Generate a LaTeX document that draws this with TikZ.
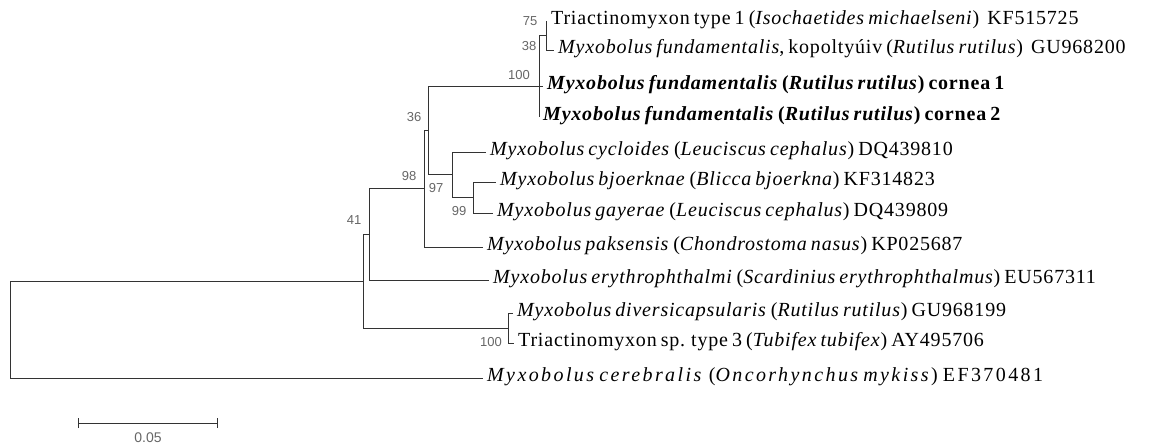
\documentclass[tikz,border=0pt]{standalone}
\usepackage{fontspec}
\setmainfont{Liberation Serif}
\newfontfamily\leaffont[LetterSpace=4,WordSpace=0.7]{Liberation Serif}
\newfontfamily\bootfont{Liberation Sans}
\usetikzlibrary{arrows.meta,positioning}
\tikzset{
  branch/.style={draw=black!80,line width=1pt},
  leaf/.style={anchor=west,inner xsep=4pt,inner ysep=0pt,text height=0.66em,text depth=0pt,
    font=\leaffont\fontsize{20}{20}\selectfont},
  boot/.style={inner sep=0pt,text=black!60,font=\bootfont\fontsize{13}{13}\selectfont}
}

\begin{document}
\begin{tikzpicture}[x=1pt,y=-1pt]
\useasboundingbox (0,0) rectangle (1149,445);
% inner nodes of the tree
\coordinate (root)  at (10,329.5);
\coordinate (nA)    at (363,281);
\coordinate (n41)   at (369,234);
\coordinate (n98)   at (424,188);
\coordinate (n36)   at (428,130);
\coordinate (n100)  at (539,86);
\coordinate (n75)   at (546,35);
\coordinate (n97)   at (452,174);
\coordinate (n99)   at (473,197);
\coordinate (n100b) at (508,328);
% leaves
\node[leaf] (tri1) at (547,21)  {Triactinomyxon type 1 (\textit{Isochaetides michaelseni})\ \ KF515725};
\node[leaf] (kop)  at (554,50)  {\textit{Myxobolus fundamentalis}, kopoltyúiv (\textit{Rutilus rutilus})\ \ GU968200};
\node[leaf] (c1)   at (543,86)  {\bfseries\textit{Myxobolus fundamentalis} (\textit{Rutilus rutilus}) cornea 1};
\node[leaf] (c2)   at (539,117) {\bfseries\textit{Myxobolus fundamentalis} (\textit{Rutilus rutilus}) cornea 2};
\node[leaf] (cyc)  at (486,152) {\textit{Myxobolus cycloides} (\textit{Leuciscus cephalus}) DQ439810};
\node[leaf] (bjo)  at (496,182) {\textit{Myxobolus bjoerknae} (\textit{Blicca bjoerkna}) KF314823};
\node[leaf] (gay)  at (493,213) {\textit{Myxobolus gayerae} (\textit{Leuciscus cephalus}) DQ439809};
\node[leaf] (pak)  at (483,247) {\textit{Myxobolus paksensis} (\textit{Chondrostoma nasus}) KP025687};
\node[leaf] (ery)  at (489,280) {\textit{Myxobolus erythrophthalmi} (\textit{Scardinius erythrophthalmus}) EU567311};
\node[leaf] (div)  at (513,313) {\textit{Myxobolus diversicapsularis} (\textit{Rutilus rutilus}) GU968199};
\node[leaf] (tri3) at (514,343) {Triactinomyxon sp. type 3 (\textit{Tubifex tubifex}) AY495706};
\node[leaf] (cer)  at (483,378) {\addfontfeature{LetterSpace=12}\textit{Myxobolus cerebralis} (\textit{Oncorhynchus mykiss}) EF370481};
% branches
\path[branch]
  (root)  |- (nA)       (root)  |- (cer.west)
  (nA)    |- (n41)      (nA)    |- (n100b)
  (n41)   |- (n98)      (n41)   |- (ery.west)
  (n98)   |- (n36)      (n98)   |- (pak.west)
  (n36)   |- (n100)     (n36)   |- (n97)
  (n100)  |- (n75)      (n100)  |- (c1.west)    (n100) |- (c2.west)
  (n75)   |- (tri1.west) (n75)  |- (kop.west)
  (n97)   |- (cyc.west) (n97)   |- (n99)
  (n99)   |- (bjo.west) (n99)   |- (gay.west)
  (n100b) |- (div.west) (n100b) |- (tri3.west);
% bootstrap values
\node[boot] (b75)   at (530,21)  {75};
\node[boot] (b38)   at (529,46)  {38};
\node[boot] (b100)  at (519,75)  {100};
\node[boot] (b36)   at (414,117) {36};
\node[boot] (b98)   at (409,176) {98};
\node[boot] (b97)   at (436,188) {97};
\node[boot] (b99)   at (459,211) {99};
\node[boot] (b41)   at (354,220) {41};
\node[boot] (b100b) at (491,342) {100};
% scale bar
\coordinate (sbl) at (78,423);
\coordinate (sbr) at (218,423);
\draw[branch,{Bar[width=10pt]}-{Bar[width=10pt]}] (sbl) -- (sbr);
\node[boot,font=\bootfont\fontsize{14}{14}\selectfont] (sblab) at (148,438) {0.05};
\end{tikzpicture}
\end{document}
